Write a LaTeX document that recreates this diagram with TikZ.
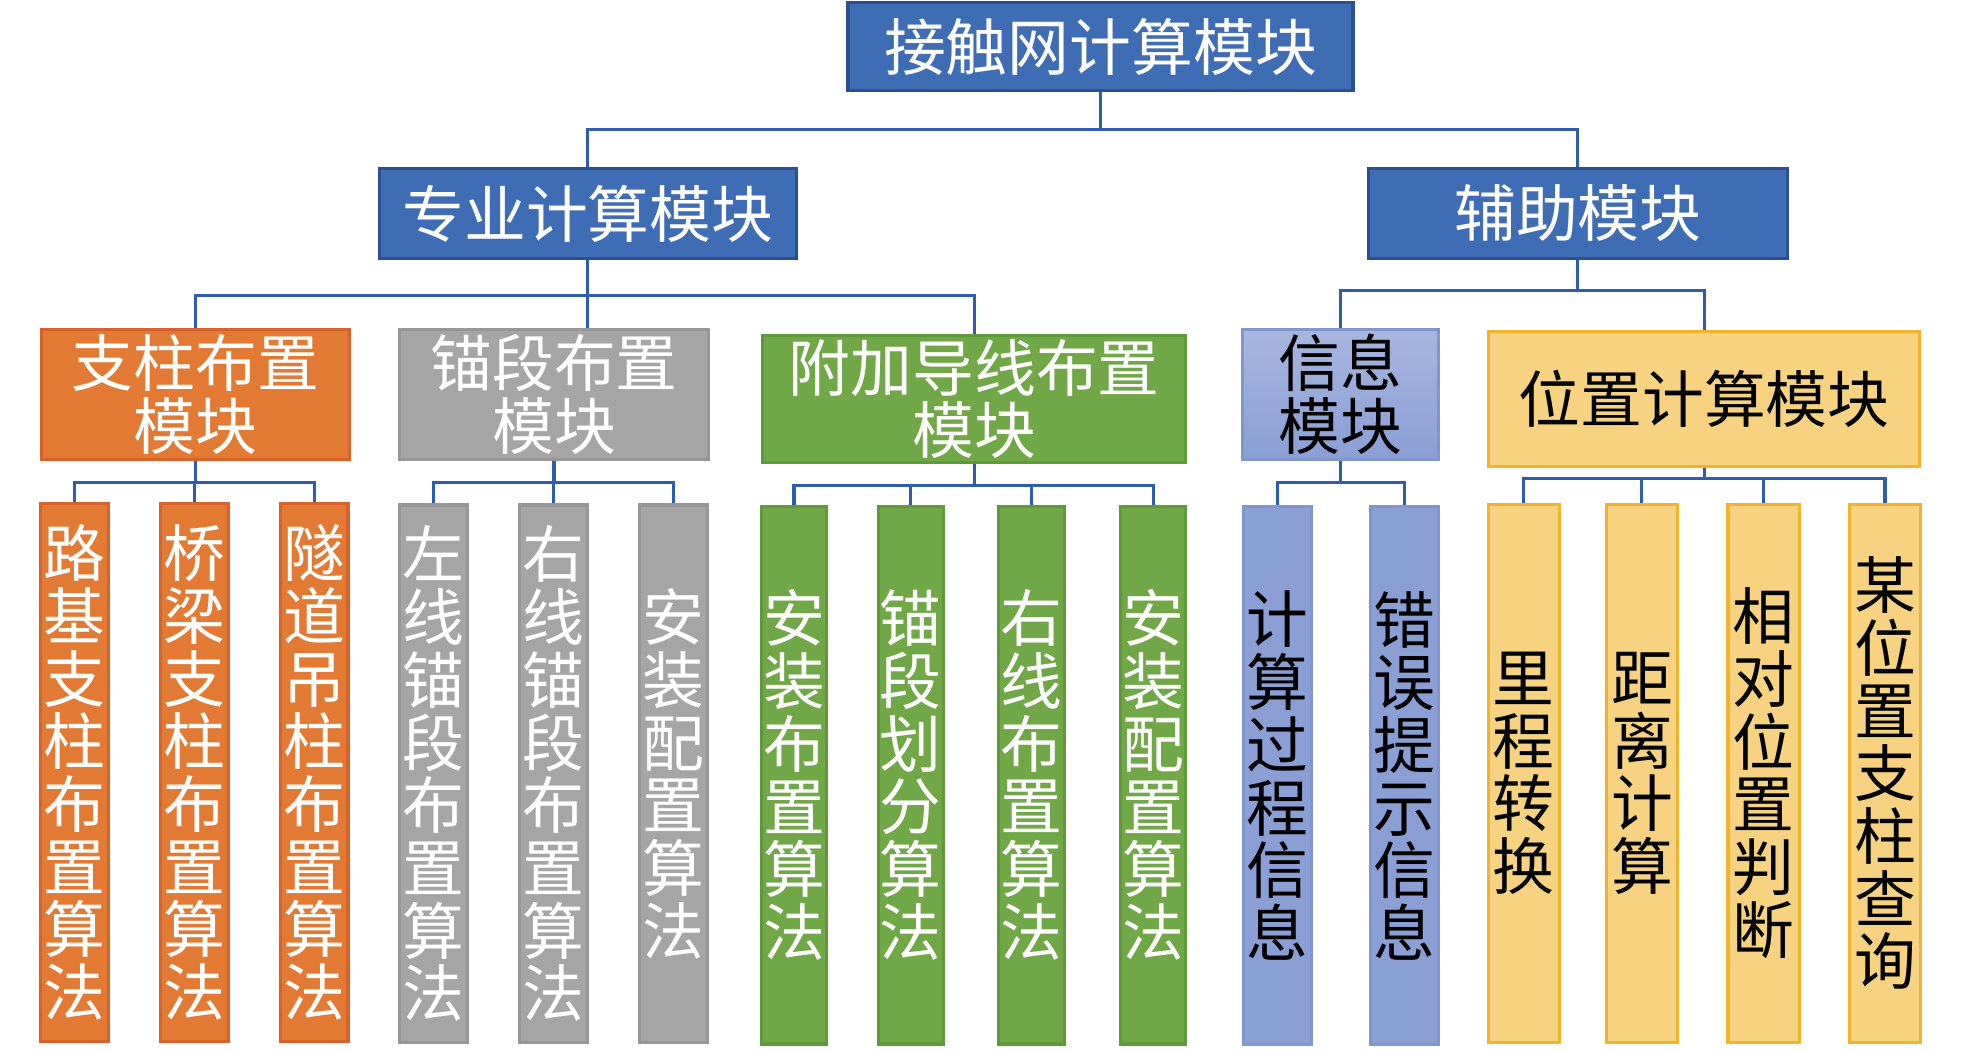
\documentclass[tikz,border=0pt]{standalone}
\usepackage{fontspec}
\setmainfont{Noto Sans CJK SC}
\definecolor{blueF}{HTML}{3E6DB5}
\definecolor{blueD}{HTML}{2A4F93}
\definecolor{orangeF}{HTML}{E27A34}
\definecolor{orangeD}{HTML}{D9622B}
\definecolor{greyF}{HTML}{A5A5A5}
\definecolor{greyD}{HTML}{979797}
\definecolor{greenF}{HTML}{70A848}
\definecolor{greenD}{HTML}{5E9A3A}
\definecolor{infoT}{HTML}{A7B6DE}
\definecolor{infoB}{HTML}{8A9FD4}
\definecolor{infoD}{HTML}{8096CC}
\definecolor{posF}{HTML}{F7D281}
\definecolor{posD}{HTML}{F2B22A}
\definecolor{linkC}{HTML}{2E5DB0}
\tikzset{
  base/.style={rectangle, inner sep=0pt, line width=0.7pt, align=center,
    font=\fontsize{14}{14.2}\selectfont},
  bluebox/.style={base, fill=blueF, draw=blueD, text=white},
  orangebox/.style={base, fill=orangeF, draw=orangeD, text=white},
  greybox/.style={base, fill=greyF, draw=greyD, text=white},
  greenbox/.style={base, fill=greenF, draw=greenD, text=white},
  infobox/.style={base, top color=infoT, bottom color=infoB, draw=infoD, text=black},
  posbox/.style={base, fill=posF, draw=posD, text=black},
  tall/.style={minimum width=5.4mm, minimum height=42.8mm},
  link/.style={draw=linkC, line width=0.7pt}
}
\begin{document}
\begin{tikzpicture}[x=0.1mm,y=-0.1mm]
	\useasboundingbox (0,0) rectangle (1561,836);

	% top levels
	\node[bluebox, minimum width=40.2mm, minimum height=7mm] (top) at (876,37) {接触网计算模块};
	\node[bluebox, minimum width=33.2mm, minimum height=7.2mm] (zy) at (468,170) {专业计算模块};
	\node[bluebox, minimum width=33.4mm, minimum height=7.2mm] (fz) at (1256,170) {辅助模块};

	\node[orangebox, minimum width=24.5mm, minimum height=10.4mm] (zz) at (155.5,314) {支柱布置\\模块};
	\node[greybox, minimum width=24.6mm, minimum height=10.4mm] (mg) at (441,314) {锚段布置\\模块};
	\node[greenbox, minimum width=33.7mm, minimum height=10.1mm] (fj) at (775.5,317.5) {附加导线布置\\模块};
	\node[infobox, minimum width=15.6mm, minimum height=10.4mm] (xx) at (1067,314) {信息\\模块};
	\node[posbox, minimum width=34.3mm, minimum height=10.7mm] (wz) at (1356.5,317.5) {位置计算模块};

	% bottom row
	\foreach \n/\x/\t in {lj/59.5/{路\\基\\支\\柱\\布\\置\\算\\法},
	                     ql/155/{桥\\梁\\支\\柱\\布\\置\\算\\法},
	                     sd/250/{隧\\道\\吊\\柱\\布\\置\\算\\法}} {
		\node[orangebox, tall] (\n) at (\x,615) {\t};
	}
	\foreach \n/\x/\t in {zx/345/{左\\线\\锚\\段\\布\\置\\算\\法},
	                     yx/440.5/{右\\线\\锚\\段\\布\\置\\算\\法},
	                     az/536/{安\\装\\配\\置\\算\\法}} {
		\node[greybox, tall] (\n) at (\x,616) {\t};
	}
	\foreach \n/\x/\t in {ab/632/{安\\装\\布\\置\\算\\法},
	                     mh/725/{锚\\段\\划\\分\\算\\法},
	                     yb/821/{右\\线\\布\\置\\算\\法},
	                     ap/918/{安\\装\\配\\置\\算\\法}} {
		\node[greenbox, tall, minimum width=5.2mm] (\n) at (\x,617) {\t};
	}
	\foreach \n/\x/\t in {js/1017/{计\\算\\过\\程\\信\\息},
	                     cw/1118/{错\\误\\提\\示\\信\\息}} {
		\node[infobox, tall, top color=infoB] (\n) at (\x,617.5) {\t};
	}
	\foreach \n/\x/\t in {lc/1213/{里\\程\\转\\换},
	                     jl/1307/{距\\离\\计\\算},
	                     xd/1404/{相\\对\\位\\置\\判\\断},
	                     mw/1500.5/{某\\位\\置\\支\\柱\\查\\询}} {
		\node[posbox, tall, minimum width=5.7mm] (\n) at (\x,615.5) {\t};
	}

	% connectors
	\draw[link] (top.south) -- ++(0,30) coordinate (b0);
	\draw[link] (zy.north) |- (b0) -| (fz.north);

	\path (zy.south) ++(0,28) coordinate (b1);
	\draw[link] (zy.south) -- (zy.south |- mg.north);
	\draw[link] (zz.north) |- (b1) -| (fj.north);

	\path (fz.south) ++(0,24) coordinate (b2);
	\draw[link] (fz.south) -- (b2);
	\draw[link] (xx.north) |- (b2) -| (wz.north);

	\foreach \p/\c in {zz/lj, zz/ql, zz/sd, mg/zx, mg/yx, mg/az,
	                   fj/ab, fj/mh, fj/yb, fj/ap, xx/js, xx/cw} {
		\draw[link] (\p.south) -- ++(0,17) -| (\c.north);
	}
	\foreach \c in {lc, jl, xd, mw} {
		\draw[link] (wz.south) -- ++(0,9) -| (\c.north);
	}
\end{tikzpicture}
\end{document}
